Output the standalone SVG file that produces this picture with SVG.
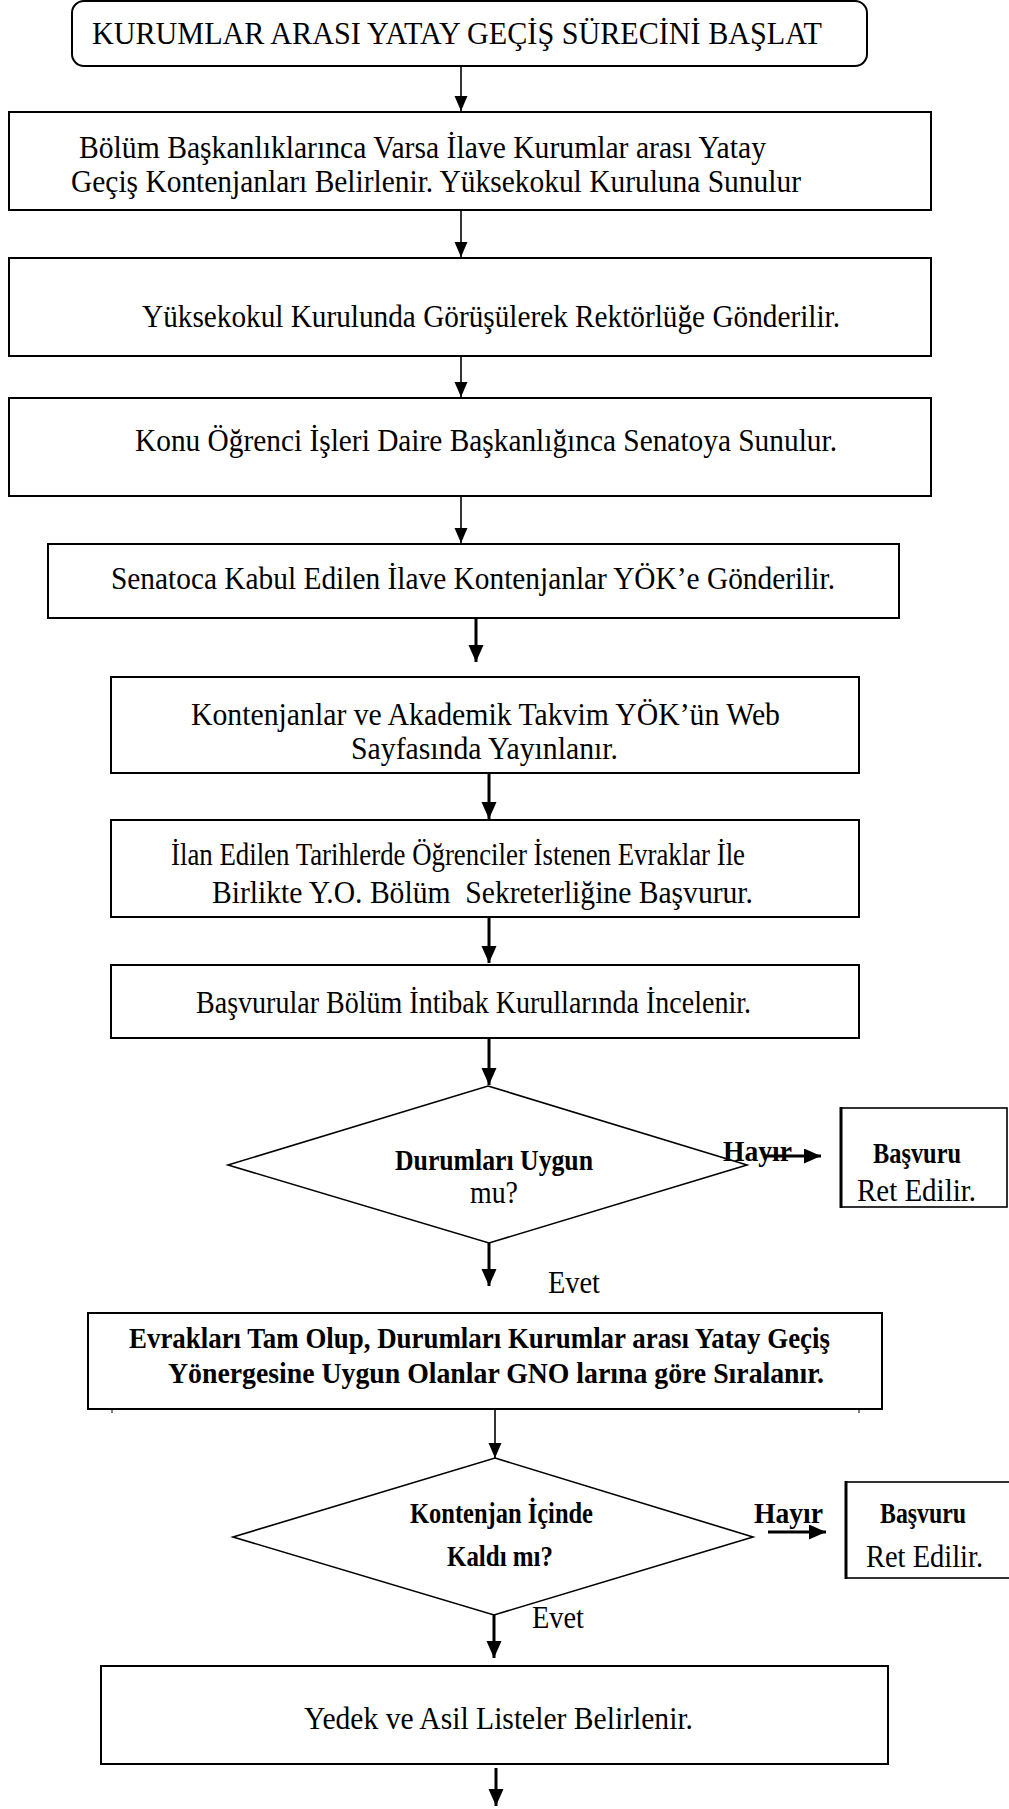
<svg xmlns="http://www.w3.org/2000/svg" width="1009" height="1809" viewBox="0 0 1009 1809">
<defs>
<style>
.box{fill:#fff;stroke:#000;stroke-width:2}
.dia{fill:#fff;stroke:#000;stroke-width:1.6}
.t{font-family:"Liberation Serif","Times New Roman",serif;font-size:32.5px;fill:#000}
.b{font-family:"Liberation Serif","Times New Roman",serif;font-weight:bold;fill:#000}
.thin{stroke:#000;stroke-width:1.6;fill:none}
.thick{stroke:#000;stroke-width:3;fill:none}
</style>
<marker id="ah" markerUnits="userSpaceOnUse" markerWidth="16" markerHeight="14" refX="15" refY="6.5" orient="auto">
<path d="M0,0 L15,6.5 L0,13 z" fill="#000"/>
</marker>
<marker id="ahb" markerUnits="userSpaceOnUse" markerWidth="18" markerHeight="16" refX="17" refY="7.5" orient="auto">
<path d="M0,0 L17,7.5 L0,15 z" fill="#000"/>
</marker>
</defs>
<rect width="1009" height="1809" fill="#fff"/>

<g id="connectors">
<line class="thin" x1="461" y1="66" x2="461" y2="111" marker-end="url(#ah)"/>
<line class="thin" x1="461" y1="210" x2="461" y2="257" marker-end="url(#ah)"/>
<line class="thin" x1="461" y1="356" x2="461" y2="397" marker-end="url(#ah)"/>
<line class="thin" x1="461" y1="496" x2="461" y2="543" marker-end="url(#ah)"/>
<line class="thick" x1="476" y1="618" x2="476" y2="662" marker-end="url(#ahb)"/>
<line class="thick" x1="489" y1="773" x2="489" y2="819" marker-end="url(#ahb)"/>
<line class="thick" x1="489" y1="917" x2="489" y2="963" marker-end="url(#ahb)"/>
<line class="thick" x1="489" y1="1038" x2="489" y2="1085" marker-end="url(#ahb)"/>
<line class="thick" x1="764" y1="1156" x2="821" y2="1156" marker-end="url(#ahb)"/>
<line class="thick" x1="489" y1="1243" x2="489" y2="1286" marker-end="url(#ahb)"/>
<line class="thin" x1="495" y1="1410" x2="495" y2="1458" marker-end="url(#ah)"/>
<line class="thick" x1="768" y1="1532" x2="826" y2="1532" marker-end="url(#ahb)"/>
<line class="thick" x1="494" y1="1615" x2="494" y2="1658" marker-end="url(#ahb)"/>
<line class="thick" x1="496" y1="1768" x2="496" y2="1806" marker-end="url(#ahb)"/>
</g>

<g id="start">
<rect class="box" x="72" y="1" width="795" height="65" rx="12"/>
<text class="t" x="92" y="44" textLength="730" lengthAdjust="spacingAndGlyphs">KURUMLAR ARASI YATAY GEÇİŞ SÜRECİNİ BAŞLAT</text>
</g>

<g id="n1">
<rect class="box" x="9" y="112" width="922" height="98"/>
<text class="t" x="79" y="158" textLength="687" lengthAdjust="spacingAndGlyphs">Bölüm Başkanlıklarınca Varsa İlave Kurumlar arası Yatay</text>
<text class="t" x="71" y="192" textLength="730" lengthAdjust="spacingAndGlyphs">Geçiş Kontenjanları Belirlenir. Yüksekokul Kuruluna Sunulur</text>
</g>

<g id="n2">
<rect class="box" x="9" y="258" width="922" height="98"/>
<text class="t" x="142" y="327" textLength="698" lengthAdjust="spacingAndGlyphs">Yüksekokul Kurulunda Görüşülerek Rektörlüğe Gönderilir.</text>
</g>

<g id="n3">
<rect class="box" x="9" y="398" width="922" height="98"/>
<text class="t" x="135" y="451" textLength="702" lengthAdjust="spacingAndGlyphs">Konu Öğrenci İşleri Daire Başkanlığınca Senatoya Sunulur.</text>
</g>

<g id="n4">
<rect class="box" x="48" y="544" width="851" height="74"/>
<text class="t" x="111" y="589" textLength="724" lengthAdjust="spacingAndGlyphs">Senatoca Kabul Edilen İlave Kontenjanlar YÖK’e Gönderilir.</text>
</g>

<g id="n5">
<rect class="box" x="111" y="677" width="748" height="96"/>
<text class="t" x="191" y="725" textLength="589" lengthAdjust="spacingAndGlyphs">Kontenjanlar ve Akademik Takvim YÖK’ün Web</text>
<text class="t" x="351" y="759" textLength="267" lengthAdjust="spacingAndGlyphs">Sayfasında Yayınlanır.</text>
</g>

<g id="n6">
<rect class="box" x="111" y="820" width="748" height="97"/>
<text class="t" x="171" y="865" textLength="574" lengthAdjust="spacingAndGlyphs">İlan Edilen Tarihlerde Öğrenciler İstenen Evraklar İle</text>
<text class="t" x="212" y="903" xml:space="preserve" style="white-space:pre" textLength="541" lengthAdjust="spacingAndGlyphs">Birlikte Y.O. Bölüm  Sekreterliğine Başvurur.</text>
</g>

<g id="n7">
<rect class="box" x="111" y="965" width="748" height="73"/>
<text class="t" x="196" y="1013" textLength="555" lengthAdjust="spacingAndGlyphs">Başvurular Bölüm İntibak Kurullarında İncelenir.</text>
</g>

<g id="d1">
<polygon class="dia" points="488,1086 747,1165 489,1243 228,1165"/>
<text class="b" x="395" y="1170" font-size="29" textLength="198" lengthAdjust="spacingAndGlyphs">Durumları Uygun</text>
<text class="t" x="470" y="1203" textLength="48" lengthAdjust="spacingAndGlyphs">mu?</text>
</g>

<g id="lbl1">
<text class="b" x="723" y="1161" font-size="30" textLength="69" lengthAdjust="spacingAndGlyphs">Hayır</text>
<text class="t" x="548" y="1293" textLength="52" lengthAdjust="spacingAndGlyphs">Evet</text>
</g>

<g id="r1">
<rect class="box" x="841" y="1108" width="166" height="99" style="stroke-width:1.6"/>
<line x1="841" y1="1107" x2="841" y2="1208" stroke="#000" stroke-width="3"/>
<text class="b" x="873" y="1163" font-size="29" textLength="88" lengthAdjust="spacingAndGlyphs">Başvuru</text>
<text class="t" x="857" y="1201" textLength="119" lengthAdjust="spacingAndGlyphs">Ret Edilir.</text>
</g>

<g id="n8">
<rect class="box" x="88" y="1313" width="794" height="96"/>
<line x1="112" y1="1409" x2="112" y2="1413" stroke="#000" stroke-width="1"/>
<line x1="859" y1="1409" x2="859" y2="1413" stroke="#000" stroke-width="1"/>
<text class="b" x="129" y="1348" font-size="30" textLength="701" lengthAdjust="spacingAndGlyphs">Evrakları Tam Olup, Durumları Kurumlar arası Yatay Geçiş</text>
<text class="b" x="168" y="1383" font-size="30" textLength="656" lengthAdjust="spacingAndGlyphs">Yönergesine Uygun Olanlar GNO larına göre Sıralanır.</text>
</g>

<g id="d2">
<polygon class="dia" points="495,1458 753,1537 494,1615 233,1537"/>
<text class="b" x="410" y="1523" font-size="29" textLength="183" lengthAdjust="spacingAndGlyphs">Kontenjan İçinde</text>
<text class="b" x="447" y="1566" font-size="29" textLength="106" lengthAdjust="spacingAndGlyphs">Kaldı mı?</text>
</g>

<g id="lbl2">
<text class="b" x="754" y="1523" font-size="30" textLength="69" lengthAdjust="spacingAndGlyphs">Hayır</text>
<text class="t" x="532" y="1628" textLength="52" lengthAdjust="spacingAndGlyphs">Evet</text>
</g>

<g id="r2">
<rect class="box" x="846" y="1482" width="170" height="96" style="stroke-width:1.6"/>
<line x1="846" y1="1481" x2="846" y2="1579" stroke="#000" stroke-width="3"/>
<text class="b" x="880" y="1523" font-size="29" textLength="86" lengthAdjust="spacingAndGlyphs">Başvuru</text>
<text class="t" x="866" y="1567" textLength="117" lengthAdjust="spacingAndGlyphs">Ret Edilir.</text>
</g>

<g id="n9">
<rect class="box" x="101" y="1666" width="787" height="98"/>
<text class="t" x="304" y="1729" textLength="389" lengthAdjust="spacingAndGlyphs">Yedek ve Asil Listeler Belirlenir.</text>
</g>
</svg>
